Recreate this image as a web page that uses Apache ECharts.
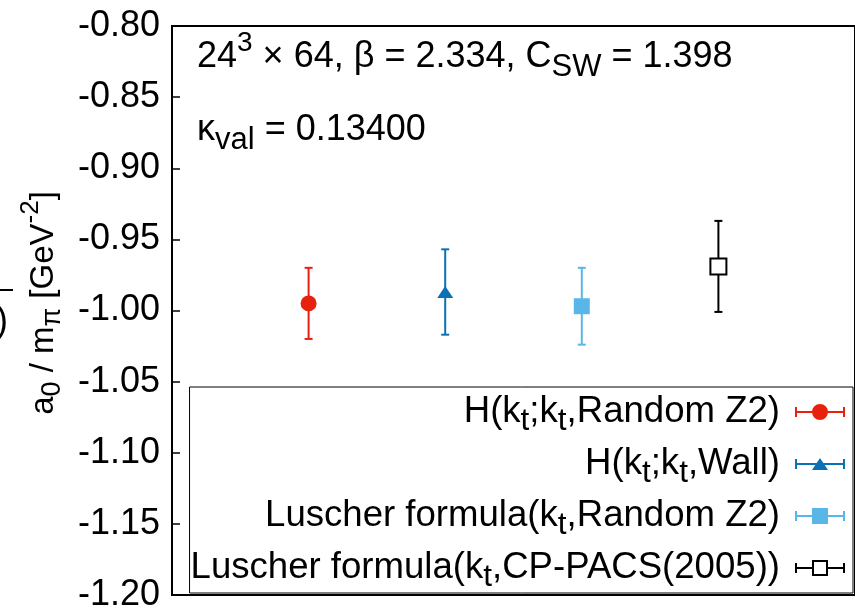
<!DOCTYPE html>
<html><head><meta charset="utf-8">
<script src="https://cdn.jsdelivr.net/npm/echarts@6/dist/echarts.min.js"></script>
<style>html,body{margin:0;padding:0;background:#fff}#c{width:855px;height:613px}</style>
</head><body><div id="c"></div>
<script>
// ---- data ----
const seriesNames = ['H(kt;kt,Random Z2)', 'H(kt;kt,Wall)', 'Luscher formula(kt,Random Z2)', 'Luscher formula(kt,CP-PACS(2005))'];
const legendLabels = [
  '{n|H(k}{s|t}{n|;k}{s|t}{n|,Random Z2}{e|)}',
  '{n|H(k}{s|t}{n|;k}{s|t}{n|,Wall}{e|)}',
  '{n|Luscher formula(k}{s|t}{n|,Random Z2}{e|)}',
  '{n|Luscher formula(k}{s|t}{n|,CP-PACS(2005)}{e|)}'
];
const xPositions = [1, 2, 3, 4];
const centerValues = [-0.995, -0.987, -0.997, -0.969];
const errorValues = [0.025, 0.030, 0.027, 0.032];
const yMin = -1.20, yMax = -0.80, yStep = 0.05;

// ---- styles ----
const FONT = '"Liberation Sans", Arial, sans-serif';
const colors = ['#e8200e', '#0a72b4', '#58b6e8', '#000000'];
const symbols = ['circle', 'triangle', 'rect', 'rect'];
const symbolSizes = [16, [16, 12], 16, 16];

function rect(x, y, w, h) { return `M${x} ${y}h${w}v${h}h${-w}Z`; }
function hole(x, y, w, h) { return `M${x} ${y}v${h}h${w}v${-h}Z`; }
const bound = 'M25 0L25 0M25 16L25 16';
const bars = rect(0, 7, 50, 2) + rect(0, 3, 2, 10) + rect(48, 3, 2, 10);
const icons = [
  'path://' + bound + bars + 'M17 8A8 8 0 1 1 33 8A8 8 0 1 1 17 8Z',
  'path://' + bound + bars + 'M17 14L25 2L33 14Z',
  'path://' + bound + bars + rect(17, 0, 16, 16),
  'path://' + bound + rect(0, 7, 17, 2) + rect(33, 7, 17, 2) + rect(0, 3, 2, 10) + rect(48, 3, 2, 10) + rect(17, 0, 16, 16) + hole(19, 2, 12, 12)
];

const rich = {
  n: {fontSize: 36, lineHeight: 36, fontFamily: FONT, color: '#000', fill: '#000'},
  s: {fontSize: 31, lineHeight: 16, padding: [20, 0, 0, 0], fontFamily: FONT, color: '#000', fill: '#000'},
  p: {fontSize: 28, lineHeight: 8, padding: [0, 0, 28, 0], fontFamily: FONT, color: '#000', fill: '#000'}
};
const richLegend = {
  n: {fontSize: 36.6, lineHeight: 36, fontFamily: FONT, color: '#000'},
  e: {fontSize: 36.6, lineHeight: 36, fontFamily: FONT, color: '#000', padding: [0, 10, 0, 0]},
  s: {fontSize: 31.5, lineHeight: 16, padding: [18, 0, 0, 0], fontFamily: FONT, color: '#000'}
};
const richY = {
  n: {fontSize: 33, lineHeight: 33, fontFamily: FONT, fill: '#000'},
  s: {fontSize: 27, lineHeight: 15, padding: [18, 0, 0, 0], fontFamily: FONT, fill: '#000'},
  p: {fontSize: 26, lineHeight: 7, padding: [0, 0, 26, 0], fontFamily: FONT, fill: '#000'}
};

const series = [];
seriesNames.forEach((name, i) => {
  series.push({
    name: name,
    type: 'custom',
    z: 2,
    silent: true,
    data: [[xPositions[i], centerValues[i] - errorValues[i], centerValues[i] + errorValues[i]]],
    renderItem: function (params, api) {
      const lo = api.coord([api.value(0), api.value(1)]);
      const hi = api.coord([api.value(0), api.value(2)]);
      const c = colors[i];
      const st = {stroke: c, lineWidth: 2};
      const hw = 4;
      return {
        type: 'group',
        children: [
          {type: 'line', shape: {x1: lo[0], y1: lo[1], x2: hi[0], y2: hi[1]}, style: st},
          {type: 'line', shape: {x1: lo[0] - hw, y1: lo[1], x2: lo[0] + hw, y2: lo[1]}, style: st},
          {type: 'line', shape: {x1: hi[0] - hw, y1: hi[1], x2: hi[0] + hw, y2: hi[1]}, style: st}
        ]
      };
    }
  });
  series.push({
    name: name,
    type: 'scatter',
    z: 3,
    silent: true,
    symbol: symbols[i],
    symbolSize: symbolSizes[i],
    itemStyle: i === 3 ? {color: '#fff', borderColor: '#000', borderWidth: 2, opacity: 1}
                       : {color: colors[i], opacity: 1},
    data: [[xPositions[i], centerValues[i]]]
  });
});

const chart = echarts.init(document.getElementById('c'));
chart.setOption({
  animation: false,
  backgroundColor: '#fff',
  grid: {left: 172, top: 26, width: 691.5, height: 576, show: true, borderColor: '#000', borderWidth: 2, backgroundColor: 'transparent'},
  xAxis: {type: 'value', min: 0, max: 5, show: false},
  yAxis: {
    type: 'value', min: yMin, max: yMax, interval: yStep,
    axisLine: {show: false},
    axisTick: {show: true, inside: true, length: 8, lineStyle: {color: '#000', width: 1.5}},
    splitLine: {show: false},
    axisLabel: {margin: 12, fontSize: 36, fontFamily: FONT, color: '#000', formatter: v => v.toFixed(2)}
  },
  legend: {
    orient: 'vertical', align: 'right', right: 2, bottom: 20,
    padding: [0, 8, 0, 1], itemGap: 2, itemWidth: 50, itemHeight: 16,
    borderColor: '#000', borderWidth: 1, backgroundColor: '#fff',
    selectedMode: false,
    data: seriesNames.map((n, i) => ({name: n, icon: icons[i], itemStyle: {color: colors[i], borderWidth: 0}})),
    formatter: name => legendLabels[seriesNames.indexOf(name)],
    textStyle: {fontSize: 36.6, fontFamily: FONT, color: '#000', rich: richLegend}
  },
  graphic: [
    {type: 'text', x: 197, y: 57, z: 10, style: {text: '{n|24}{p|3}{n| × 64, β = 2.334, C}{s|SW}{n| = 1.398}', rich: rich, verticalAlign: 'middle', textVerticalAlign: 'middle', fill: '#000'}},
    {type: 'text', x: 197, y: 130, z: 10, style: {text: '{n|κ}{s|val}{n| = 0.13400}', rich: rich, verticalAlign: 'middle', textVerticalAlign: 'middle', fill: '#000'}},
    {type: 'text', x: 44, y: 303, rotation: Math.PI / 2, z: 10, style: {text: '{n|a}{s|0}{n| / m}{s|π}{n| [GeV}{p|-2}{n|]}', rich: richY, align: 'center', textAlign: 'center', verticalAlign: 'middle', textVerticalAlign: 'middle', fill: '#000'}},
    {type: 'line', shape: {x1: 0, y1: 290, x2: 13, y2: 290}, style: {stroke: '#000', lineWidth: 2}},
    {type: 'text', x: -4, y: 322, style: {text: ')', fontSize: 36, fontFamily: FONT, fill: '#000', verticalAlign: 'middle', textVerticalAlign: 'middle'}}
  ],
  series: series
});
</script></body></html>
